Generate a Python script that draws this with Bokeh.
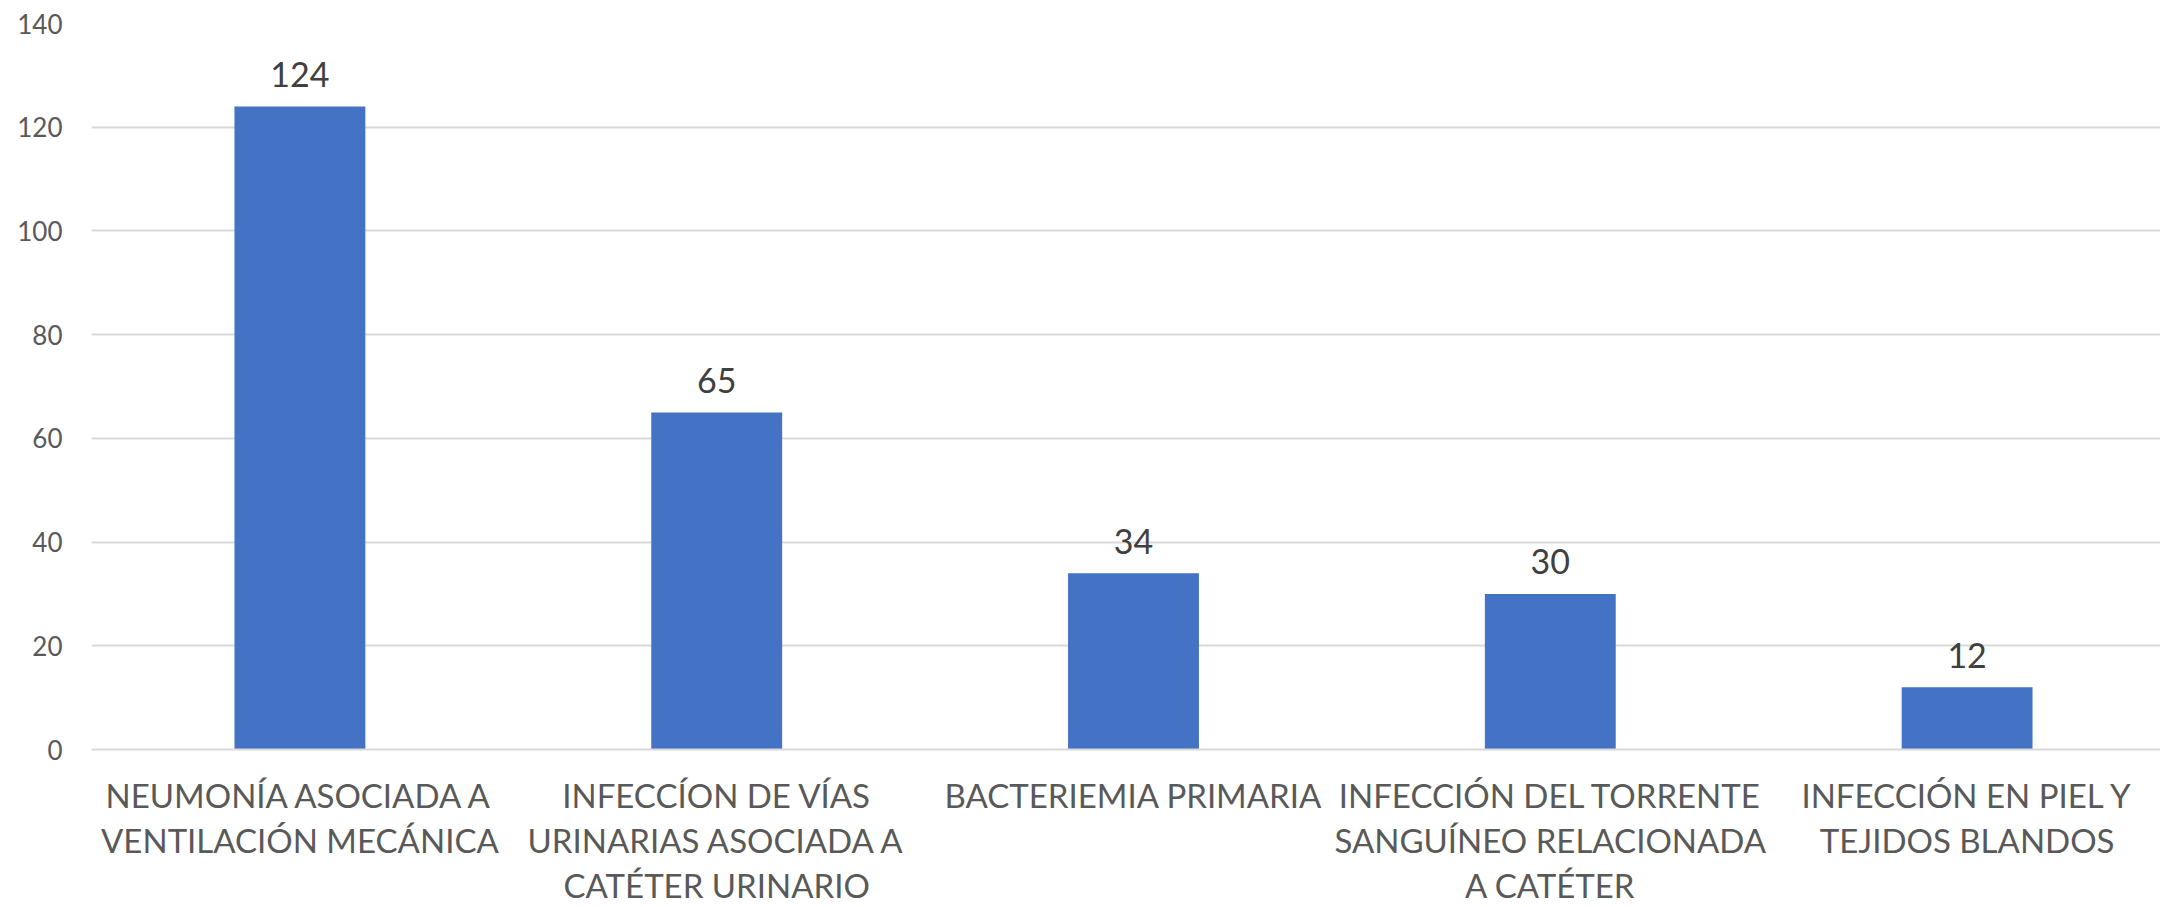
from bokeh.plotting import figure
from bokeh.models import Range1d, ColumnDataSource, FixedTicker
from bokeh.core.properties import value
from bokeh.embed import file_html
from bokeh.resources import INLINE

categories = [
    "NEUMONÍA ASOCIADA A\nVENTILACIÓN MECÁNICA",
    "INFECCÍON DE VÍAS\nURINARIAS ASOCIADA A\nCATÉTER URINARIO",
    "BACTERIEMIA PRIMARIA",
    "INFECCIÓN DEL TORRENTE\nSANGUÍNEO RELACIONADA\nA CATÉTER",
    "INFECCIÓN EN PIEL Y\nTEJIDOS BLANDOS",
]
counts = [124, 65, 34, 30, 12]
y_ticks = [0, 20, 40, 60, 80, 100, 120, 140]

positions = list(range(1, len(categories) + 1))
src = ColumnDataSource(dict(x=positions, top=counts, lbl=[str(c) for c in counts]))

FONT = "Lato"

p = figure(width=2160, height=907, output_backend="svg", toolbar_location=None,
           x_range=Range1d(0.5, 5.464), y_range=Range1d(0, 140),
           min_border_left=91, min_border_right=0, min_border_top=23, min_border_bottom=0)
p.outline_line_color = None
p.background_fill_color = "white"
p.border_fill_color = "white"

p.vbar(x="x", top="top", width=0.314, bottom=0, source=src,
       fill_color="#4472C4", line_color=None)

p.text(x="x", y="top", text="lbl", source=src, y_offset=-32,
       text_align="center", text_baseline="middle",
       text_font=value(FONT), text_font_size="34px", text_color="#404040")

# y axis
p.yaxis.ticker = FixedTicker(ticks=y_ticks)
p.yaxis.axis_line_color = None
p.yaxis.major_tick_line_color = None
p.yaxis.minor_tick_line_color = None
p.yaxis.major_label_standoff = 23
p.yaxis.major_label_text_font = FONT
p.yaxis.major_label_text_font_size = "26px"
p.yaxis.major_label_text_color = "#595959"

# x axis
p.xaxis.ticker = FixedTicker(ticks=positions)
p.xaxis.major_label_overrides = {pos: cat for pos, cat in zip(positions, categories)}
p.xaxis.axis_line_color = "#D9D9D9"
p.xaxis.axis_line_width = 2
p.xaxis.major_tick_line_color = None
p.xaxis.minor_tick_line_color = None
p.xaxis.major_label_standoff = 19
p.xaxis.major_label_text_font = FONT
p.xaxis.major_label_text_font_size = "33px"
p.xaxis.major_label_text_color = "#595959"
p.xaxis.major_label_text_line_height = 1.13

p.xgrid.grid_line_color = None
p.ygrid.grid_line_color = "#D9D9D9"
p.ygrid.grid_line_width = 2

open("out.html", "w").write(file_html(p, INLINE))
